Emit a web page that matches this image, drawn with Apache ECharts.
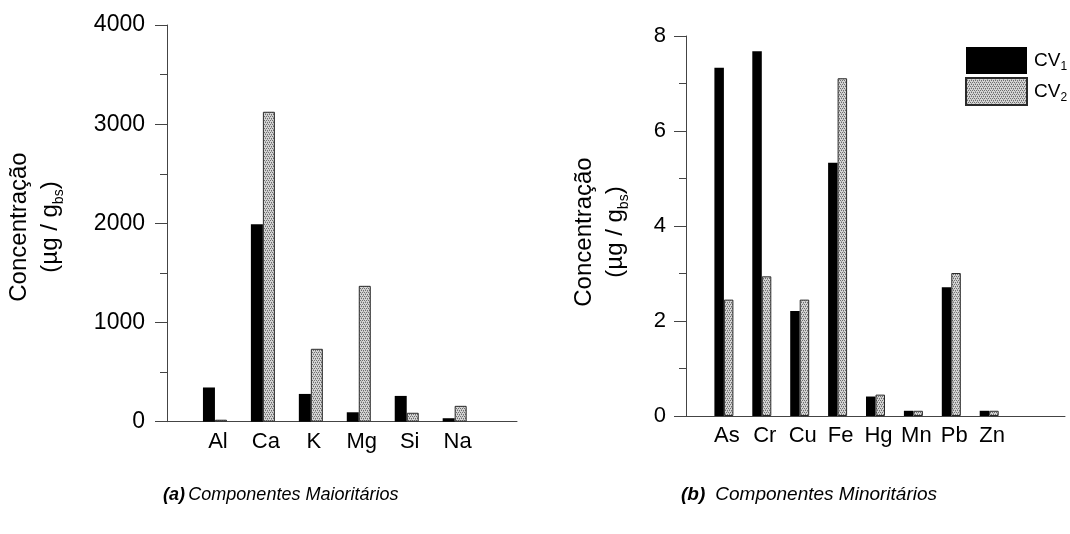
<!DOCTYPE html>
<html>
<head>
<meta charset="utf-8">
<script src="https://cdn.jsdelivr.net/npm/echarts@6/dist/echarts.min.js"></script>
<style>
  html, body { margin: 0; padding: 0; background: #fff; }
  #chart { width: 1070px; height: 534px; }
</style>
</head>
<body>
<div id="chart"></div>
<script>
// Major components (µg / g bs)
const majorCats = ['Al', 'Ca', 'K', 'Mg', 'Si', 'Na'];
const majorCV1 = [345, 1990, 280, 95, 260, 35];
const majorCV2 = [20, 3125, 735, 1370, 90, 160];

// Minor components (µg / g bs)
const minorCats = ['As', 'Cr', 'Cu', 'Fe', 'Hg', 'Mn', 'Pb', 'Zn'];
const minorCV1 = [7.33, 7.68, 2.21, 5.33, 0.41, 0.11, 2.71, 0.11];
const minorCV2 = [2.45, 2.94, 2.45, 7.11, 0.45, 0.11, 3.01, 0.11];

const seriesNames = ['CV1', 'CV2'];

// Dotted grey fill used for the CV2 bars
function makeDotPattern() {
  const c = document.createElement('canvas');
  c.width = 4; c.height = 4;
  const g = c.getContext('2d');
  g.fillStyle = '#d4d4d4';
  g.fillRect(0, 0, 4, 4);
  g.fillStyle = '#6e6e6e';
  [[0, 0], [2, 0], [1, 2], [3, 2]].forEach(([x, y]) => g.fillRect(x, y, 1, 1));
  g.fillStyle = '#a0a0a0';
  [[1, 1], [3, 3]].forEach(([x, y]) => g.fillRect(x, y, 1, 1));
  return c;
}
const dotFill = { image: makeDotPattern(), repeat: 'repeat' };

const FONT = 'Arial, "Liberation Sans", sans-serif';
const axisColor = '#444';

function xAxisFor(gridIndex, cats, max) {
  return {
    type: 'value', gridIndex, min: 0, max, interval: 1,
    axisLine: { show: true, onZero: false, lineStyle: { color: axisColor, width: 1 } },
    axisTick: { show: false },
    splitLine: { show: false },
    axisLabel: {
      color: '#000', fontSize: 22, fontFamily: FONT, margin: 9,
      showMaxLabel: false, showMinLabel: false,
      padding: [0, 0, 0, 6],
      formatter: v => (Number.isInteger(v) && cats[v - 1]) ? cats[v - 1] : ''
    }
  };
}

function yAxisFor(gridIndex, max, interval, fontSize, margin) {
  return {
    type: 'value', gridIndex, min: 0, max, interval,
    axisLine: { show: true, lineStyle: { color: axisColor, width: 1 } },
    axisTick: { show: true, length: 12, lineStyle: { color: axisColor } },
    minorTick: { show: true, splitNumber: 2, length: 7, lineStyle: { color: axisColor } },
    splitLine: { show: false },
    minorSplitLine: { show: false },
    axisLabel: { color: '#000', fontSize, fontFamily: FONT, margin, formatter: v => String(v) }
  };
}

function barSeries(name, idx, vals, width, filled) {
  return {
    name, type: 'bar', xAxisIndex: idx, yAxisIndex: idx,
    barWidth: width, barGap: '0%',
    data: vals.map((v, i) => [i + 1, v]),
    itemStyle: filled
      ? { color: '#000', borderColor: '#000', borderWidth: 0 }
      : { color: dotFill, borderColor: '#2a2a2a', borderWidth: 1 }
  };
}

const yTitleRich = {
  b: { fontSize: 24, fontFamily: FONT, lineHeight: 31, color: '#000' },
  s: { fontSize: 14, fontFamily: FONT, lineHeight: 24, verticalAlign: 'bottom', color: '#000' }
};
function yTitle(x, y) {
  return {
    type: 'text', x, y, rotation: Math.PI / 2,
    style: {
      text: '{b|Concentração}\n{b|(µg / g}{s|bs}{b|)}',
      rich: yTitleRich, align: 'center', verticalAlign: 'middle', fill: '#000'
    }
  };
}

function captionRich(size) {
  return {
    bi: { fontSize: size, fontStyle: 'italic', fontWeight: 'bold', fontFamily: FONT, color: '#000' },
    i: { fontSize: size, fontStyle: 'italic', fontFamily: FONT, color: '#000' }
  };
}

const chart = echarts.init(document.getElementById('chart'), null, { renderer: 'canvas' });
chart.setOption({
  animation: false,
  backgroundColor: '#fff',
  grid: [
    { left: 167, top: 25, width: 350, height: 396.7 },
    { left: 686, top: 36, width: 379, height: 380 }
  ],
  xAxis: [xAxisFor(0, majorCats, 7.3), xAxisFor(1, minorCats, 10)],
  yAxis: [yAxisFor(0, 4000, 1000, 23, 22), yAxisFor(1, 8, 2, 22, 20)],
  legend: {
    data: seriesNames,
    left: 965, top: 47, orient: 'vertical', padding: 0,
    itemWidth: 61, itemHeight: 27, itemGap: 3, icon: 'rect',
    selectedMode: false,
    formatter: n => '{n|CV}{s|' + n.slice(2) + '}',
    textStyle: {
      padding: [0, 0, 0, 2],
      rich: {
        n: { fontSize: 19, fontFamily: FONT, color: '#000', lineHeight: 24 },
        s: { fontSize: 12, fontFamily: FONT, color: '#000', verticalAlign: 'bottom', lineHeight: 14 }
      }
    }
  },
  series: [
    barSeries(seriesNames[0], 0, majorCV1, 12, true),
    barSeries(seriesNames[1], 0, majorCV2, 12, false),
    barSeries(seriesNames[0], 1, minorCV1, 9.5, true),
    barSeries(seriesNames[1], 1, minorCV2, 9.5, false)
  ],
  graphic: [
    yTitle(35, 227),
    yTitle(600, 232),
    {
      type: 'text', x: 163, y: 495,
      style: { text: '{bi|(a)} {i|Componentes Maioritários}', rich: captionRich(18), verticalAlign: 'middle' }
    },
    {
      type: 'text', x: 681, y: 495,
      style: { text: '{bi|(b)}   {i|Componentes Minoritários}', rich: captionRich(19), verticalAlign: 'middle' }
    }
  ]
});
</script>
</body>
</html>
